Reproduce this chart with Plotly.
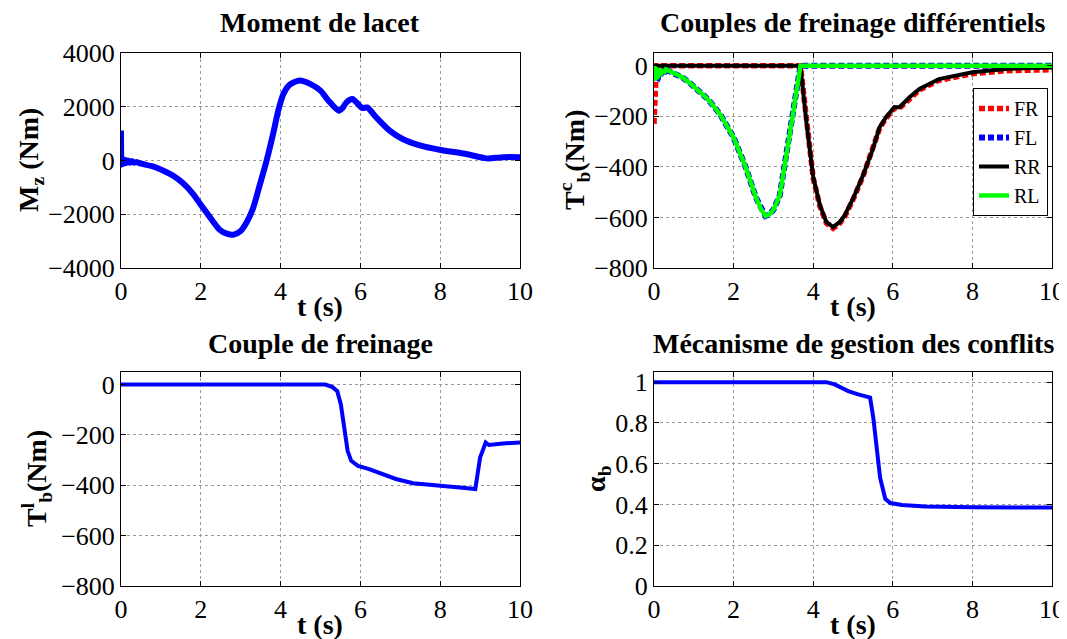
import plotly.graph_objects as go

W, H = 1067, 639          # browser window
OFF = 8                   # default page body margin
FW, FH = W - OFF, H - OFF  # figure size so it fills the window

# ---------------- data ----------------
# Moment de lacet (Mz)
t_mz = [0, 0.01, 0.025, 0.04, 0.06, 0.08, 0.11, 0.14, 0.18, 0.22, 0.27, 0.32, 0.4, 0.46, 0.8, 1.05,
        1.3, 1.55, 1.81, 2.0, 2.2, 2.48, 2.65, 2.81, 3.0, 3.15, 3.31, 3.48, 3.65, 3.82, 3.94, 4.07,
        4.23, 4.48, 4.74, 5.0, 5.2, 5.46, 5.55, 5.65, 5.8, 5.94, 6.05, 6.17, 6.4, 6.74, 7.07, 7.49,
        8.01, 8.58, 9.08, 9.2, 9.58, 10]
mz = [1120, -150, 60, -130, 40, -110, 20, -90, 0, -80, -20, -80, -60, -100, -220, -370,
      -560, -840, -1250, -1650, -2050, -2585, -2720, -2760, -2620, -2300, -1775, -900, 0, 1040, 1850, 2475,
      2825, 2975, 2850, 2600, 2225, 1850, 1950, 2163, 2290, 2100, 1950, 1975, 1600, 1100, 790, 560,
      390, 260, 100, 75, 125, 125]

# Couples de freinage differentiels
t_left = [0, 0.02, 0.04, 0.06, 0.08, 0.1, 0.13, 0.16, 0.2, 0.25, 0.3, 0.48, 0.7, 0.91, 1.1, 1.33,
          1.5, 1.67, 2.0, 2.15, 2.3, 2.56, 2.7, 2.8, 2.9, 3.0, 3.16, 3.42, 3.68]
left_curve = [0, -60, -5, -55, -10, -50, -10, -40, -15, -30, -15, -30, -45, -70, -95, -129,
              -160, -195, -284, -337, -400, -521, -570, -594, -588, -570, -513, -263, 0]
t_right = [3.68, 3.83, 3.92, 4.0, 4.17, 4.33, 4.5, 4.67, 4.79, 5.0, 5.25, 5.5, 5.67, 5.83, 6.04,
           6.17, 6.42, 6.67, 7.16, 8.0, 8.83, 10]
rr_curve = [0, -224, -342, -441, -553, -618, -638, -618, -592, -526, -434, -329, -243, -204, -164,
            -164, -125, -92, -53, -26, -13, -7]
fr_curve = [0, -226, -345, -445, -557, -622, -643, -622, -597, -530, -438, -333, -247, -208, -168,
            -168, -129, -96, -58, -32, -20, -16]
t_fr_start = [0, 0.06]
fr_start = [-230, 0]
t_fl_start = [0, 0.05]
fl_start = [0, -65]

# Couple de freinage
t_tbl = [0, 5.12, 5.3, 5.42, 5.51, 5.6, 5.68, 5.77, 5.94, 6.2, 6.46, 6.89, 7.32, 8.01, 8.62, 8.88,
         9.0, 9.14, 9.22, 9.57, 10]
tbl = [0, 0, -10, -26, -79, -184, -263, -303, -323, -335, -349, -375, -392, -404, -411, -415,
       -290, -230, -240, -234, -230]

# Mecanisme de gestion des conflits
t_alpha = [0, 4.33, 4.54, 4.88, 5.13, 5.43, 5.51, 5.6, 5.68, 5.81, 5.94, 6.23, 6.82, 8, 10]
alpha = [1, 1, 0.989, 0.956, 0.94, 0.924, 0.826, 0.663, 0.533, 0.428, 0.407, 0.397, 0.39, 0.386, 0.385]

x_ticks = [0, 2, 4, 6, 8, 10]

# ---------------- layout geometry (window pixels) ----------------
LX = (121, 520)
RX = (654, 1052)
TY = (53, 268)
BY = (372, 586)


def px_x(p):
    return (p - OFF) / FW


def px_y(p):
    return 1 - (p - OFF) / FH


def dom_x(p):
    return [px_x(p[0]), px_x(p[1])]


def dom_y(p):
    return [px_y(p[1]), px_y(p[0])]


BLUE = "rgb(0,0,255)"
FONT = "'Liberation Serif', 'Times New Roman', Times, serif"

fig = go.Figure()

# top-left
fig.add_trace(go.Scatter(x=t_mz, y=mz, mode="lines",
                         line=dict(color=BLUE, width=6, shape="spline", smoothing=0.7),
                         xaxis="x", yaxis="y", showlegend=False))

# top-right
fr_t = t_fr_start + t_right
fr_v = fr_start + fr_curve
fl_t = t_fl_start + t_left[5:] + [10]
fl_v = fl_start + left_curve[5:] + [0]
rr_t = [0] + t_right
rr_v = [0] + rr_curve
rl_t = t_left + [10]
rl_v = left_curve + [0]
fig.add_trace(go.Scatter(x=fr_t, y=fr_v, mode="lines", name="FR",
                         line=dict(color="rgb(255,0,0)", width=5.5, dash="6px,3px"),
                         xaxis="x2", yaxis="y2"))
fig.add_trace(go.Scatter(x=fl_t, y=fl_v, mode="lines", name="FL",
                         line=dict(color=BLUE, width=6, dash="6px,3px"),
                         xaxis="x2", yaxis="y2"))
fig.add_trace(go.Scatter(x=rr_t, y=rr_v, mode="lines", name="RR",
                         line=dict(color="black", width=4),
                         xaxis="x2", yaxis="y2"))
fig.add_trace(go.Scatter(x=rl_t, y=rl_v, mode="lines", name="RL",
                         line=dict(color="rgb(0,255,0)", width=4.5),
                         xaxis="x2", yaxis="y2"))

# bottom-left
fig.add_trace(go.Scatter(x=t_tbl, y=tbl, mode="lines", line=dict(color=BLUE, width=4),
                         xaxis="x3", yaxis="y3", showlegend=False))
# bottom-right
fig.add_trace(go.Scatter(x=t_alpha, y=alpha, mode="lines", line=dict(color=BLUE, width=4),
                         xaxis="x4", yaxis="y4", showlegend=False))

common = dict(showline=True, linecolor="black", linewidth=1, mirror="ticks", ticks="inside",
              ticklen=5, tickcolor="black", showgrid=True, gridcolor="#9a9a9a", griddash="dot",
              gridwidth=1, zeroline=False, automargin=False,
              tickfont=dict(family=FONT, size=26, color="black"))

xcommon = dict(common, range=[0, 10], tickvals=x_ticks)

fig.update_layout(
    width=FW, height=FH,
    margin=dict(l=0, r=0, t=0, b=0),
    paper_bgcolor="white", plot_bgcolor="white",
    font=dict(family=FONT, color="black"),
    xaxis=dict(xcommon, domain=dom_x(LX), anchor="y"),
    yaxis=dict(common, domain=dom_y(TY), anchor="x", range=[-4000, 4000],
               tickvals=[-4000, -2000, 0, 2000, 4000]),
    xaxis2=dict(xcommon, domain=dom_x(RX), anchor="y2"),
    yaxis2=dict(common, domain=dom_y(TY), anchor="x2", range=[-800, 50],
                tickvals=[-800, -600, -400, -200, 0]),
    xaxis3=dict(xcommon, domain=dom_x(LX), anchor="y3"),
    yaxis3=dict(common, domain=dom_y(BY), anchor="x3", range=[-800, 50],
                tickvals=[-800, -600, -400, -200, 0]),
    xaxis4=dict(xcommon, domain=dom_x(RX), anchor="y4"),
    yaxis4=dict(common, domain=dom_y(BY), anchor="x4", range=[0, 1.05],
                tickvals=[0, 0.2, 0.4, 0.6, 0.8, 1], ticktext=["0", "0.2", "0.4", "0.6", "0.8", "1"]),
    legend=dict(x=px_x(1048), y=px_y(88), xanchor="right", yanchor="top",
                bgcolor="white", bordercolor="black", borderwidth=1,
                font=dict(family=FONT, size=20, color="black"),
                itemwidth=30, tracegroupgap=0),
)


def ann(text, px, py, size=28, angle=0):
    fig.add_annotation(text=text, x=px_x(px), y=px_y(py), xref="paper", yref="paper",
                       showarrow=False, textangle=angle, xanchor="center", yanchor="middle",
                       font=dict(family=FONT, size=size, color="black"))


# subplot titles
ann("<b>Moment de lacet</b>", 320.5, 23)
ann("<b>Couples de freinage différentiels</b>", 853, 23)
ann("<b>Couple de freinage</b>", 320.5, 343)
ann("<b>Mécanisme de gestion des conflits</b>", 853, 343)
# x titles
ann("<b>t (s)</b>", 320.5, 306)
ann("<b>t (s)</b>", 853, 306)
ann("<b>t (s)</b>", 320.5, 624)
ann("<b>t (s)</b>", 853, 624)
# y titles
ann("<b>M<sub>z</sub> (Nm)</b>", 30, 160, angle=-90)
ann("<b>T<sup>c</sup><sub>b</sub>(Nm)</b>", 574, 160, angle=-90)
ann("<b>T<sup>l</sup><sub>b</sub>(Nm)</b>", 36, 479, angle=-90)
ann("<b>α<sub>b</sub></b>", 597, 479, angle=-90)

fig.write_html("out.html")
